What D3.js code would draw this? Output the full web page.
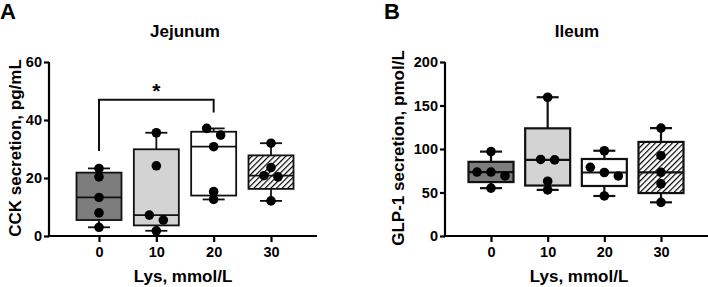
<!DOCTYPE html>
<meta charset="utf-8">
<style>
  body { margin: 0; background: #fff; }
  svg { font-family: "Liberation Sans", Arial, sans-serif; font-weight: bold; }
</style>
<body>
<svg width="708" height="287"></svg>
<script src="https://cdn.jsdelivr.net/npm/d3@7"></script>
<script>

// doses (x categories), same for both panels
var doses = ["0", "10", "20", "30"];

// Jejunum CCK secretion, pg/mL (5 replicates per dose)
var cck0  = [3.0, 8.0, 13.3, 20.4, 23.3];
var cck10 = [1.8, 5.5, 7.2, 24.2, 35.6];
var cck20 = [12.6, 15.3, 30.8, 34.8, 37.1];
var cck30 = [12.1, 20.4, 20.8, 23.6, 32.0];

// Ileum GLP-1 secretion, pmol/L
var glp0  = [55, 69, 73.5, 73.5, 97];
var glp10 = [53, 63, 87.5, 88, 159.5];
var glp20 = [46, 69, 73, 79, 98];
var glp30 = [38.7, 60, 73.2, 92.3, 124];

var ticksA = [0, 20, 40, 60];
var ticksB = [0, 50, 100, 150, 200];

// significance: 0 vs 20 in jejunum
var sigA = [{ from: "0", to: "20", y: 47, label: "*" }];

var fills = ["#7d7d7d", "#d3d3d3", "#ffffff", "url(#hatch)"];

var svg = d3.select("svg");

var defs = svg.append("defs");
var pat = defs.append("pattern")
    .attr("id", "hatch")
    .attr("patternUnits", "userSpaceOnUse")
    .attr("width", 4).attr("height", 4)
    .attr("patternTransform", "rotate(45)");
pat.append("rect").attr("width", 4).attr("height", 4).attr("fill", "#fff");
pat.append("line").attr("x1", 0).attr("y1", 0).attr("x2", 0).attr("y2", 4)
    .attr("stroke", "#000").attr("stroke-width", 2.4);

// Prism style quartiles ((n+1)p)
function quart(v, p) {
  var s = v.slice().sort(d3.ascending);
  var pos = (s.length + 1) * p - 1;
  var lo = Math.max(0, Math.floor(pos)), hi = Math.min(s.length - 1, Math.ceil(pos));
  return s[lo] + (s[hi] - s[lo]) * (pos - Math.floor(pos));
}

// simple row-based scatter spreading like Prism
function spread(vals, y) {
  var s = vals.slice().sort(function(a, b) { return b - a; });
  var rows = [], cur = [];
  s.forEach(function(v, i) {
    if (i > 0 && Math.abs(y(v) - y(s[i - 1])) < 7) cur.push(v);
    else { if (cur.length) rows.push(cur); cur = [v]; }
  });
  rows.push(cur);
  var out = [];
  rows.forEach(function(r) {
    r.forEach(function(v, i) { out.push({ v: v, dx: (i - (r.length - 1) / 2) * 14 }); });
  });
  return out;
}

function panel(o) {
  var g = svg.append("g");
  var y = d3.scaleLinear().domain(o.ydom).range([236, 62]);
  var x = d3.scalePoint().domain(doses).range(o.xr);

  // axes
  g.append("g")
    .attr("transform", "translate(" + o.ax + ",0)")
    .call(d3.axisLeft(y).tickValues(o.ticks).tickSize(5).tickPadding(2).tickSizeOuter(0))
    .call(function(a) {
      a.select(".domain").attr("stroke-width", 2.2).attr("d", "M0," + (y(o.ydom[0]) + 1) + "V" + y(o.ydom[1]));
      a.selectAll(".tick line").attr("stroke-width", 2.2);
      a.selectAll("text").attr("font-size", 14.5).attr("font-weight", "bold").attr("fill", "#000");
    });
  g.append("g")
    .attr("transform", "translate(0,236)")
    .call(d3.axisBottom(x).tickSize(6).tickPadding(5))
    .call(function(a) {
      a.select(".domain").attr("stroke-width", 2.2).attr("d", "M" + o.ax + ",0H" + o.axEnd);
      a.selectAll(".tick line").attr("stroke-width", 2.2);
      a.selectAll("text").attr("font-size", 14.5).attr("font-weight", "bold").attr("fill", "#000");
    });

  var bw = 45, cw = 22;
  o.groups.forEach(function(vals, i) {
    var cx = x(doses[i]);
    var mn = d3.min(vals), mx = d3.max(vals);
    var q1 = quart(vals, 0.25), md = quart(vals, 0.5), q3 = quart(vals, 0.75);
    var gg = g.append("g").attr("stroke", "#111").attr("stroke-width", o.sw);
    gg.append("line").attr("x1", cx).attr("x2", cx).attr("y1", y(mx)).attr("y2", y(q3));
    gg.append("line").attr("x1", cx).attr("x2", cx).attr("y1", y(q1)).attr("y2", y(mn));
    gg.append("line").attr("x1", cx - cw / 2).attr("x2", cx + cw / 2).attr("y1", y(mx)).attr("y2", y(mx));
    gg.append("line").attr("x1", cx - cw / 2).attr("x2", cx + cw / 2).attr("y1", y(mn)).attr("y2", y(mn));
    gg.append("rect").attr("x", cx - bw / 2).attr("width", bw)
      .attr("y", y(q3)).attr("height", y(q1) - y(q3))
      .attr("fill", fills[i]);
    gg.append("line").attr("x1", cx - bw / 2).attr("x2", cx + bw / 2).attr("y1", y(md)).attr("y2", y(md));
    gg.selectAll("circle").data(spread(vals, y)).enter().append("circle")
      .attr("cx", function(d) { return cx + d.dx; })
      .attr("cy", function(d) { return y(d.v); })
      .attr("r", 4.8).attr("fill", "#000").attr("stroke", "none");
  });

  // significance brackets
  (o.sig || []).forEach(function(s) {
    var i0 = doses.indexOf(s.from), i1 = doses.indexOf(s.to);
    var l0 = d3.max(o.groups[i0]) + 6, l1 = d3.max(o.groups[i1]) + 5.5;
    g.append("path")
      .attr("d", "M" + x(s.from) + "," + y(l0) + "V" + y(s.y) + "H" + x(s.to) + "V" + y(l1))
      .attr("fill", "none").attr("stroke", "#111").attr("stroke-width", 2);
    g.append("text").attr("x", (x(s.from) + x(s.to)) / 2).attr("y", y(s.y) - 2)
      .attr("text-anchor", "middle").attr("font-size", 21).attr("fill", "#000").text(s.label);
  });

  // titles
  g.append("text").attr("x", o.titleX).attr("y", 37).attr("text-anchor", "middle")
    .attr("font-size", 17).attr("fill", "#000").text(o.title);
  g.append("text").attr("x", (o.ax + o.axEnd) / 2).attr("y", 282).attr("text-anchor", "middle")
    .attr("font-size", 17).attr("fill", "#000").text("Lys, mmol/L");
  g.append("text").attr("transform", "translate(" + o.ylx + ",148)rotate(-90)")
    .attr("text-anchor", "middle").attr("font-size", 17).attr("fill", "#000").text(o.ylab);
  g.append("text").attr("x", o.letterX).attr("y", 19).attr("font-size", 22)
    .attr("fill", "#000").text(o.letter);
}

panel({
  letter: "A", letterX: 0, title: "Jejunum", titleX: 185,
  ylab: "CCK secretion, pg/mL", ylx: 21,
  ydom: [0, 60], ticks: ticksA, ax: 49, axEnd: 317, xr: [99, 271],
  groups: [cck0, cck10, cck20, cck30], sig: sigA, sw: 1.8
});

panel({
  letter: "B", letterX: 384, title: "Ileum", titleX: 577,
  ylab: "GLP-1 secretion, pmol/L", ylx: 404,
  ydom: [0, 200], ticks: ticksB, ax: 445, axEnd: 713, xr: [491, 661],
  groups: [glp0, glp10, glp20, glp30], sw: 2.2
});

</script>
</body>
